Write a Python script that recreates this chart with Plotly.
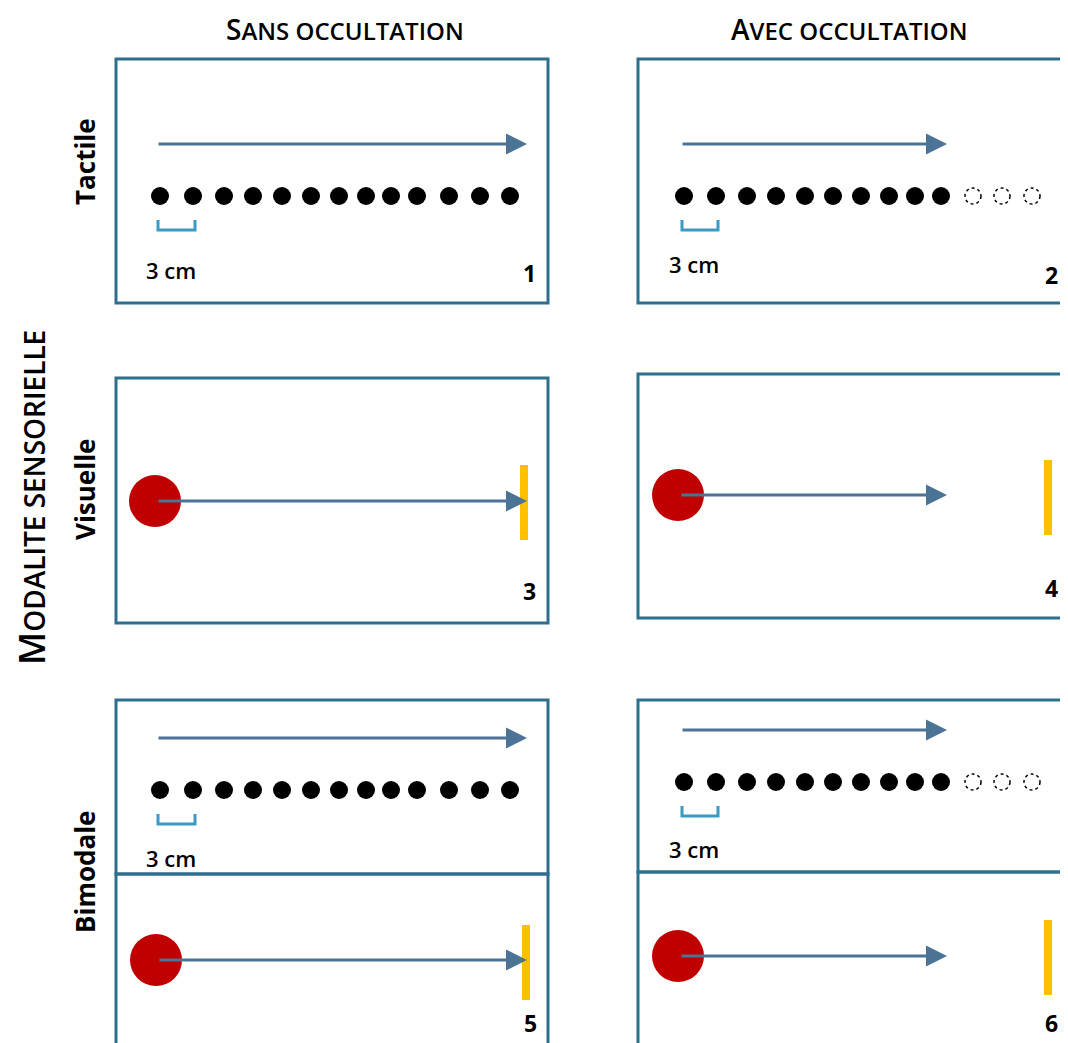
import plotly.graph_objects as go

W, H = 1068, 1043
OFF = 8  # default page body margin
FONT = "Open Sans"
BOX = "#2E6E8E"
ARROW = "#4A7396"
BRACKET = "#3C9AC2"
RED = "#C00000"
YELLOW = "#FFC000"

# Data
col_titles = ["SANS OCCULTATION", "AVEC OCCULTATION"]
row_labels = ["Tactile", "Visuelle", "Bimodale"]
axis_title = "MODALITE SENSORIELLE"
panel_numbers = ["1", "2", "3", "4", "5", "6"]
dots_sans = [160, 193, 224, 253, 282, 311, 339, 366, 391, 417, 449, 480, 510]
dots_avec = [684, 716, 747, 776, 805, 833, 861, 889, 915, 941]
dots_hidden = [973, 1002, 1032]
spacing_label = "3 cm"

fig = go.Figure()
shapes, ann = [], []

def box(x0, y0, x1, y1):
    shapes.append(dict(type="rect", x0=x0, y0=y0, x1=x1, y1=y1,
                       line=dict(color=BOX, width=3), fillcolor="rgba(0,0,0,0)", layer="above"))

def arrow(x0, x1, y):
    ann.append(dict(x=x1, y=y, ax=x0, ay=y, xref="x", yref="y", axref="x", ayref="y",
                    showarrow=True, arrowhead=2, arrowsize=1.4, arrowwidth=3,
                    arrowcolor=ARROW, text=""))

def tactile(xs, hidden, y_arrow, y_dots, x_arrow0, x_arrow1, y_br, y_txt, x_txt):
    arrow(x_arrow0, x_arrow1, y_arrow)
    fig.add_trace(go.Scatter(x=xs, y=[y_dots] * len(xs), mode="markers",
                             marker=dict(size=18, color="black"), hoverinfo="skip"))
    for hx in hidden:
        shapes.append(dict(type="circle", x0=hx - 8, x1=hx + 8, y0=y_dots - 8, y1=y_dots + 8,
                           line=dict(color="black", width=1.5, dash="dot")))
    bx0, bx1 = xs[0] - 2, xs[1] + 2
    shapes.append(dict(type="path",
                       path=f"M {bx0},{y_br} L {bx0},{y_br + 10} L {bx1},{y_br + 10} L {bx1},{y_br}",
                       line=dict(color=BRACKET, width=3)))
    ann.append(dict(x=x_txt, y=y_txt, text=spacing_label, showarrow=False, xanchor="left",
                    font=dict(family=FONT, size=22, color="black", weight=600)))

def visual(cx, cy, x_arrow1, x_bar, y_bar0, y_bar1):
    shapes.append(dict(type="circle", x0=cx - 26, x1=cx + 26, y0=cy - 26, y1=cy + 26,
                       fillcolor=RED, line=dict(width=0), layer="below"))
    shapes.append(dict(type="rect", x0=x_bar - 4, x1=x_bar + 4, y0=y_bar0, y1=y_bar1,
                       fillcolor=YELLOW, line=dict(width=0), layer="below"))
    arrow(cx + 2, x_arrow1, cy)

def number(x, y, t):
    ann.append(dict(x=x, y=y, text=t, showarrow=False,
                    font=dict(family=FONT, size=23, color="black", weight=700)))

# Panel 1
box(116, 59, 548, 303)
tactile(dots_sans, [], 144, 196, 157, 527, 220, 270, 144)
number(529, 273, panel_numbers[0])
# Panel 2
box(638, 59, 1085, 303)
tactile(dots_avec, dots_hidden, 144, 196, 681, 947, 220, 264, 667)
number(1051, 275, panel_numbers[1])
# Panel 3
box(116, 378, 548, 623)
visual(155, 501, 527, 524, 465, 540)
number(529, 591, panel_numbers[2])
# Panel 4
box(638, 374, 1085, 618)
visual(678, 495, 947, 1048, 460, 535)
number(1051, 588, panel_numbers[3])
# Panel 5
box(116, 700, 548, 874)
box(116, 874, 548, 1060)
tactile(dots_sans, [], 738, 790, 157, 527, 814, 858, 144)
visual(156, 960, 527, 526, 925, 1000)
number(530, 1023, panel_numbers[4])
# Panel 6
box(638, 700, 1085, 872)
box(638, 872, 1085, 1060)
tactile(dots_avec, dots_hidden, 730, 782, 681, 947, 806, 849, 667)
visual(678, 956, 947, 1048, 920, 995)
number(1051, 1023, panel_numbers[5])

def small_caps(s, big, small):
    return (f"<span style='font-size:{big}px'>{s[0]}</span>"
            f"<span style='font-size:{small}px'>{s[1:]}</span>")

for x, t in zip([345, 849], col_titles):
    ann.append(dict(x=x, y=29, text=small_caps(t, 28, 24), showarrow=False,
                    font=dict(family=FONT, size=24, color="black", weight=600)))

for y, t in zip([162, 490, 872], row_labels):
    ann.append(dict(x=85, y=y, text=t, showarrow=False, textangle=-90,
                    font=dict(family=FONT, size=26, color="black", weight=700)))

ann.append(dict(x=31, y=498, text=small_caps(axis_title, 36, 28), showarrow=False, textangle=-90,
                font=dict(family=FONT, size=28, color="black", weight=600)))

fig.update_layout(
    width=W - OFF, height=H - OFF, margin=dict(l=0, r=0, t=0, b=0),
    paper_bgcolor="white", plot_bgcolor="white", showlegend=False,
    xaxis=dict(range=[OFF, W], visible=False, fixedrange=True),
    yaxis=dict(range=[H, OFF], visible=False, fixedrange=True),
    shapes=shapes, annotations=ann,
)
fig.write_html("out.html")
